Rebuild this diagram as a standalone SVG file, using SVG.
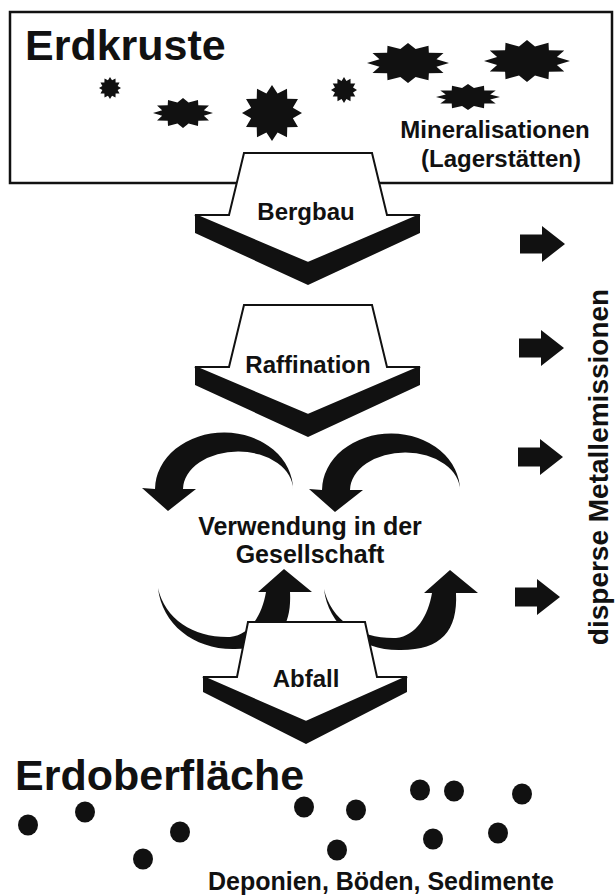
<svg xmlns="http://www.w3.org/2000/svg" xmlns:xlink="http://www.w3.org/1999/xlink" width="615" height="895" viewBox="0 0 615 895">
<style>
text{font-family:"Liberation Sans",Arial,Helvetica,sans-serif;font-weight:bold;fill:#111}
.title{font-size:43px}
.lbl{font-size:24px;text-anchor:middle}
.face{fill:#fff;stroke:#111;stroke-width:2;stroke-linejoin:miter}
.shadow{fill:#111}
.ink{fill:#111}
</style>
<defs>
<path id="star" d="M0,-1 L0.186,-0.695 L0.5,-0.866 L0.509,-0.509 L0.866,-0.5 L0.695,-0.186 L1,0 L0.695,0.186 L0.866,0.5 L0.509,0.509 L0.5,0.866 L0.186,0.695 L0,1 L-0.186,0.695 L-0.5,0.866 L-0.509,0.509 L-0.866,0.5 L-0.695,0.186 L-1,0 L-0.695,-0.186 L-0.866,-0.5 L-0.509,-0.509 L-0.5,-0.866 L-0.186,-0.695 Z"/>
<path id="emit" d="M0,-9.5 H22 V-18 L45,0 L22,18 V9.5 H0 Z"/>
<path id="arcDown" d="M293,490 A69,57 0 0 0 155,489 L142,488 L168,511 L196,489 L183,489 A55,38 0 0 1 293,490 Z"/>
<path id="arcUp" d="M158,588 C162,625 195,650 235,649 C275,649 292,630 290,592 L312,592 L284,569 L258,592 L266,592 C262,615 250,635 230,637 C195,638 165,620 158,588 Z"/>
</defs>

<g id="erdkruste">
<rect x="10" y="12" width="602" height="171" fill="#fff" stroke="#111" stroke-width="2.5"/>
<text class="title" x="25" y="60">Erdkruste</text>
<g class="ink">
<use xlink:href="#star" transform="translate(110,88) scale(11,11)"/>
<use xlink:href="#star" transform="translate(183,113) scale(30,15)"/>
<use xlink:href="#star" transform="translate(272,113) scale(30,28)"/>
<use xlink:href="#star" transform="translate(344,90) scale(13,13)"/>
<use xlink:href="#star" transform="translate(408,63) scale(41,20)"/>
<use xlink:href="#star" transform="translate(527,61) scale(43,21)"/>
<use xlink:href="#star" transform="translate(468,97) scale(32,13)"/>
</g>
<text class="lbl" x="495" y="138">Mineralisationen</text>
<text class="lbl" x="501" y="167">(Lagerstätten)</text>
</g>

<g id="bergbau">
<polygon class="shadow" points="195,215 308,263 420,215 420,233 308,285 195,233"/>
<polygon class="face" points="244,153 372,153 387,215 420,215 308,263 195,215 229,215"/>
<text class="lbl" x="306" y="220">Bergbau</text>
</g>

<g id="raffination">
<polygon class="shadow" points="195,367 308,415 420,367 420,385 308,437 195,385"/>
<polygon class="face" points="244,305 372,305 387,367 420,367 308,415 195,367 229,367"/>
<text class="lbl" x="308" y="373">Raffination</text>
</g>

<g id="connectors" class="ink">
<use xlink:href="#arcDown"/>
<use xlink:href="#arcDown" transform="translate(167,1)"/>
<use xlink:href="#arcUp"/>
<use xlink:href="#arcUp" transform="translate(166,1)"/>
</g>

<g id="verwendung">
<text class="lbl" x="310" y="535" style="font-size:25px">Verwendung in der</text>
<text class="lbl" x="310" y="563" style="font-size:25px">Gesellschaft</text>
</g>

<g id="abfall">
<polygon class="shadow" points="203,677 306,722 407,677 407,692 306,744 203,692"/>
<polygon class="face" points="248,622 365,622 377,677 407,677 306,722 203,677 237,677"/>
<text class="lbl" x="306" y="687">Abfall</text>
</g>

<g id="erdoberflaeche">
<text class="title" x="15" y="790">Erdoberfläche</text>
<g class="ink">
<ellipse cx="28" cy="825" rx="10" ry="10.5"/>
<ellipse cx="85" cy="812" rx="10" ry="10.5"/>
<ellipse cx="143" cy="859" rx="10" ry="10.5"/>
<ellipse cx="180" cy="832" rx="10" ry="10.5"/>
<ellipse cx="304" cy="807" rx="10" ry="10.5"/>
<ellipse cx="356" cy="810" rx="10" ry="10.5"/>
<ellipse cx="337" cy="850" rx="10" ry="10.5"/>
<ellipse cx="420" cy="790" rx="10" ry="10.5"/>
<ellipse cx="454" cy="791" rx="10" ry="10.5"/>
<ellipse cx="522" cy="794" rx="10" ry="10.5"/>
<ellipse cx="433" cy="839" rx="10" ry="10.5"/>
<ellipse cx="498" cy="833" rx="10" ry="10.5"/>
</g>
<text x="208" y="890" style="font-size:25px">Deponien, Böden, Sedimente</text>
</g>

<g id="emissionen">
<g class="ink">
<use xlink:href="#emit" transform="translate(520,244)"/>
<use xlink:href="#emit" transform="translate(519,348)"/>
<use xlink:href="#emit" transform="translate(518,457)"/>
<use xlink:href="#emit" transform="translate(515,597)"/>
</g>
<text class="lbl" transform="translate(608,467) rotate(-90)" style="font-size:28px">disperse Metallemissionen</text>
</g>
</svg>
